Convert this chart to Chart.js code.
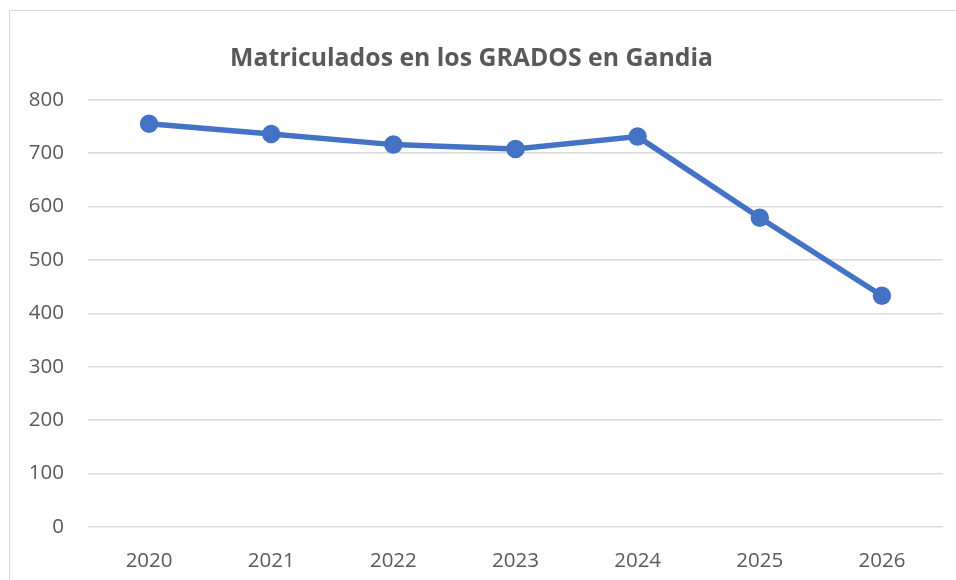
<!DOCTYPE html>
<html>
<head>
<meta charset="utf-8">
<script src="https://cdn.jsdelivr.net/npm/chart.js@4"></script>
<style>
  html, body { margin: 0; padding: 0; background: #fff; overflow: hidden; }
  #wrap { position: relative; width: 956px; height: 580px; overflow: hidden; }
  #frame { position: absolute; left: 9px; top: 10px; width: 1000px; height: 600px; border: 1.5px solid #d9d9d9; box-sizing: border-box; }
  canvas { position: absolute; left: 0; top: 0; }
</style>
</head>
<body>
<div id="wrap">
  <div id="frame"></div>
  <canvas id="myChart" width="956" height="580"></canvas>
</div>
<script>
const years = ['2020', '2021', '2022', '2023', '2024', '2025', '2026'];
const matriculados = [755, 736, 716, 708, 731, 579, 433];
const yTicks = [0, 100, 200, 300, 400, 500, 600, 700, 800];

const textGray = '#595959';
const gridGray = '#d9d9d9';
const fontFamily = '"Open Sans", "Liberation Sans", sans-serif';

const config = {
  type: 'line',
  data: {
    labels: years,
    datasets: [
      {
        label: 'Matriculados',
        data: matriculados,
        borderColor: '#4472C4',
        backgroundColor: '#4472C4',
        borderWidth: 5.5,
        pointRadius: 6.5,
        pointHoverRadius: 6.5,
        tension: 0,
      },
    ],
  },
  options: {
    responsive: false,
    animation: false,
    layout: { padding: { left: 0, right: 13, top: 0, bottom: 0 } },
    scales: {
      x: {
        offset: true,
        grid: { display: false },
        border: { display: false },
        ticks: { color: textGray, font: { family: fontFamily, size: 20.5 }, padding: 14 },
        afterFit(scale) { scale.height = 53; },
      },
      y: {
        min: 0,
        max: 800,
        afterBuildTicks(scale) { scale.ticks = yTicks.map(v => ({ value: v })); },
        grid: { color: gridGray, lineWidth: 1.5, drawTicks: false },
        border: { display: false },
        ticks: { color: textGray, font: { family: fontFamily, size: 20.5 }, padding: 24 },
        afterFit(scale) { scale.width = 88; },
      },
    },
    plugins: {
      legend: { display: false },
      tooltip: { enabled: false },
      title: {
        display: true,
        text: 'Matriculados en los GRADOS en Gandia',
        color: textGray,
        font: { family: fontFamily, size: 24.8, weight: 'bold' },
        padding: { top: 44, bottom: 26 },
      },
    },
  },
};

const myChart = new Chart(document.getElementById('myChart'), config);
</script>
</body>
</html>
